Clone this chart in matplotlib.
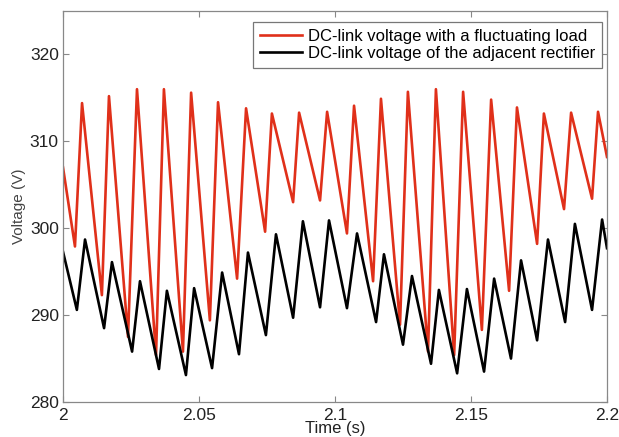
import matplotlib
matplotlib.use('Agg')
import matplotlib.pyplot as plt

# red: DC-link voltage with a fluctuating load (start, trough/peak pairs, end)
red_t = [2.0,
         2.0044, 2.0070, 2.0143, 2.0169, 2.0239, 2.0272, 2.0342, 2.0371,
         2.0441, 2.0471, 2.0540, 2.0570, 2.0640, 2.0673, 2.0743, 2.0768,
         2.0846, 2.0868, 2.0945, 2.0971, 2.1044, 2.1070, 2.1140, 2.1169,
         2.1239, 2.1268, 2.1342, 2.1371, 2.1438, 2.1471, 2.1540, 2.1574,
         2.1640, 2.1669, 2.1743, 2.1768, 2.1842, 2.1868, 2.1945, 2.1967,
         2.2]
red_v = [307.0,
         297.9, 314.4, 292.3, 315.2, 287.5, 316.0, 285.4, 316.0,
         285.8, 315.6, 289.4, 314.5, 294.2, 313.8, 299.6, 313.2,
         303.0, 313.3, 303.2, 313.4, 299.4, 314.1, 293.9, 314.9,
         288.9, 315.7, 285.8, 316.0, 285.4, 315.7, 288.3, 314.8,
         292.8, 313.9, 298.2, 313.2, 302.2, 313.3, 303.4, 313.4,
         308.2]

# black: DC-link voltage of the adjacent rectifier
blk_t = [2.0,
         2.0051, 2.0081, 2.0151, 2.0180, 2.0254, 2.0283, 2.0353, 2.0382,
         2.0452, 2.0482, 2.0548, 2.0585, 2.0647, 2.0680, 2.0746, 2.0783,
         2.0846, 2.0882, 2.0945, 2.0978, 2.1044, 2.1081, 2.1151, 2.1180,
         2.1250, 2.1283, 2.1353, 2.1382, 2.1449, 2.1485, 2.1548, 2.1585,
         2.1647, 2.1684, 2.1743, 2.1783, 2.1846, 2.1882, 2.1945, 2.1982,
         2.2]
blk_v = [297.3,
         290.6, 298.7, 288.5, 296.1, 285.8, 293.9, 283.8, 292.8,
         283.1, 293.1, 283.9, 294.9, 285.5, 297.2, 287.7, 299.3,
         289.7, 300.8, 290.9, 300.9, 290.8, 299.4, 289.2, 297.0,
         286.6, 294.5, 284.4, 292.9, 283.3, 293.0, 283.5, 294.2,
         285.0, 296.3, 287.1, 298.7, 289.2, 300.5, 290.6, 301.0,
         297.7]

labels = ['DC-link voltage with a fluctuating load',
          'DC-link voltage of the adjacent rectifier']
xticks = [2, 2.05, 2.1, 2.15, 2.2]
xticklabels = ['2', '2.05', '2.1', '2.15', '2.2']
yticks = [280, 290, 300, 310, 320]

plt.rcParams['font.family'] = ['Liberation Sans', 'DejaVu Sans']

fig = plt.figure(figsize=(6.19, 4.37), dpi=100)
ax = fig.add_axes([63/619, 35/437, 544/619, 391/437])

ax.plot(red_t, red_v, color='#e0301a', lw=1.9, label=labels[0], solid_joinstyle='round')
ax.plot(blk_t, blk_v, color='black', lw=1.9, label=labels[1], solid_joinstyle='round')

ax.set_xlim(2.0, 2.2)
ax.set_ylim(280, 325)
ax.set_xticks(xticks)
ax.set_xticklabels(xticklabels)
ax.set_yticks(yticks)
ax.tick_params(direction='in', top=True, right=True, length=4, width=0.8,
               colors='#888888', labelcolor='#222222', labelsize=12.5)
ax.tick_params(axis='x', pad=4)
ax.tick_params(axis='y', pad=3)
for s in ax.spines.values():
    s.set_color('#888888')
    s.set_linewidth(0.9)

ax.set_xlabel('Time (s)', fontsize=12, color='#222222', labelpad=-1)
ax.set_ylabel('Voltage (V)', fontsize=11, color='#444444', labelpad=3)

leg = ax.legend(loc='upper right', bbox_to_anchor=(0.991, 0.972), borderaxespad=0,
                fancybox=False, fontsize=12, handlelength=2.5, handletextpad=0.4,
                borderpad=0.4, labelspacing=0.15, framealpha=1)
leg.get_frame().set_edgecolor('#777777')
leg.get_frame().set_linewidth(0.9)

fig.savefig('out.png', dpi=100)
